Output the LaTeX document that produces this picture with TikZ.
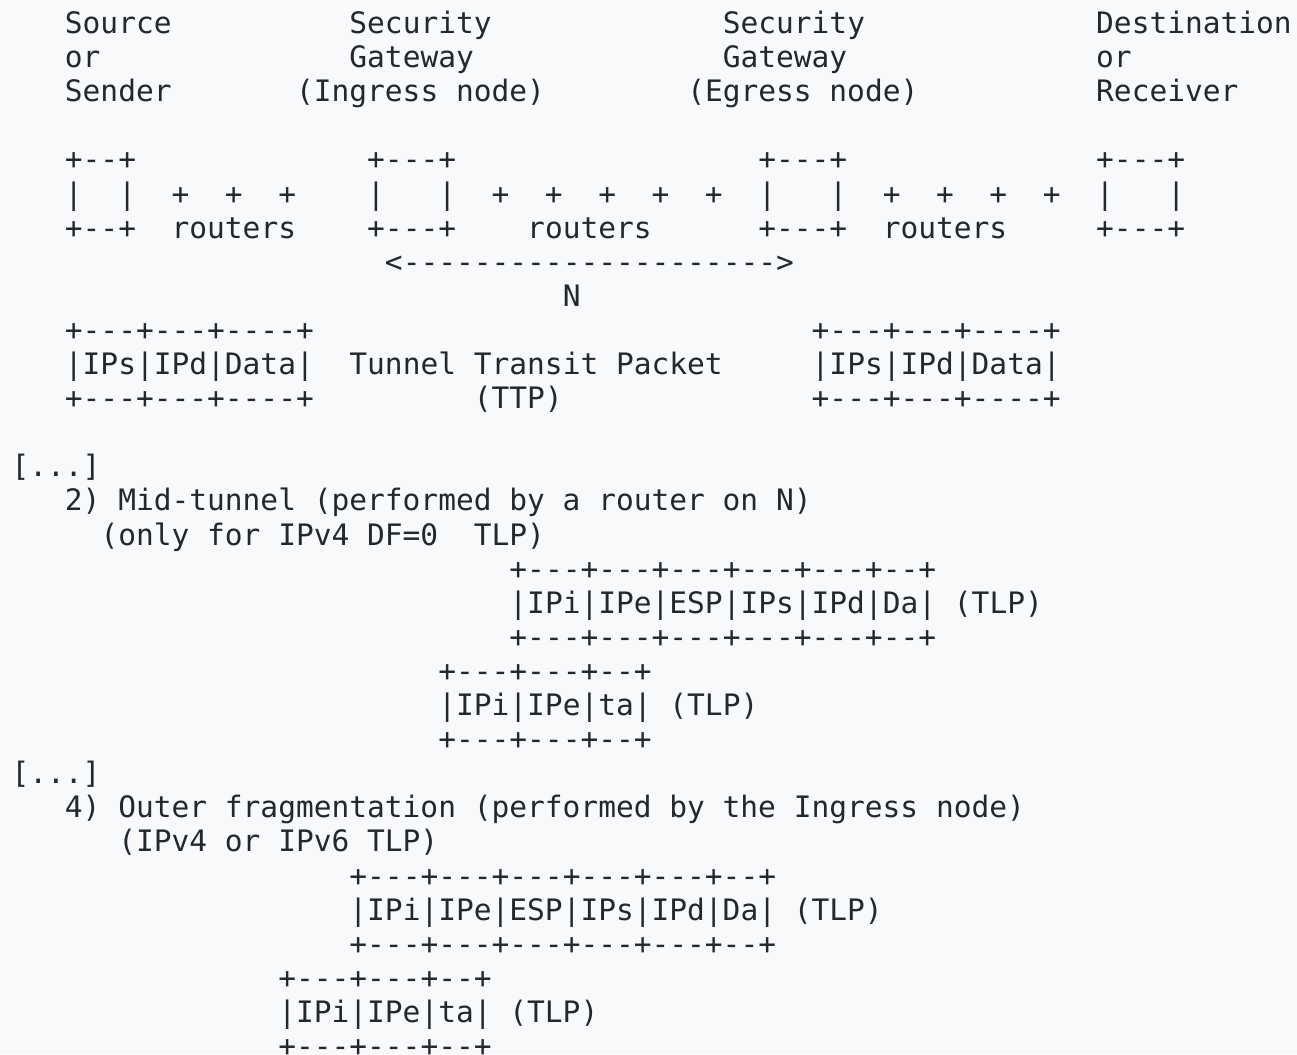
\documentclass[tikz,border=0pt]{standalone}
\usepackage{fontspec}
\setmonofont{DejaVu Sans Mono}
\definecolor{bgc}{HTML}{F8F9FA}
\definecolor{ink}{HTML}{24282D}
\tikzset{
  asc/.style={anchor=base west, inner sep=0pt, outer sep=0pt, text=ink,
    font=\ttfamily\fontsize{29.53}{34}\selectfont}
}
\newcommand\tx[4]{\node[asc] (#1) at ({11.6+17.78*#2},{33.5+34.1*(#3-1)}) {#4};}
\begin{document}
\begin{tikzpicture}[x=1pt,y=-1pt]
\path[fill=bgc] (0,0) rectangle (1297,1054);
\useasboundingbox (0,0) rectangle (1297,1054);
% line 1-3: labels
\tx{srcA}{3}{1}{Source}
\tx{sgiA}{19}{1}{Security}
\tx{sgeA}{40}{1}{Security}
\tx{dstA}{61}{1}{Destination}
\tx{srcB}{3}{2}{or}
\tx{sgiB}{19}{2}{Gateway}
\tx{sgeB}{40}{2}{Gateway}
\tx{dstB}{61}{2}{or}
\tx{srcC}{3}{3}{Sender}
\tx{sgiC}{16}{3}{(Ingress node)}
\tx{sgeC}{38}{3}{(Egress node)}
\tx{dstC}{61}{3}{Receiver}
% line 5-7: boxes and routers
\tx{b1t}{3}{5}{+--+}
\tx{b2t}{20}{5}{+---+}
\tx{b3t}{42}{5}{+---+}
\tx{b4t}{61}{5}{+---+}
\tx{b1l}{3}{6}{|}
\tx{b1r}{6}{6}{|}
\tx{r1p}{9}{6}{+~~+~~+}
\tx{b2l}{20}{6}{|}
\tx{b2r}{24}{6}{|}
\tx{r2p}{27}{6}{+~~+~~+~~+~~+}
\tx{b3l}{42}{6}{|}
\tx{b3r}{46}{6}{|}
\tx{r3p}{49}{6}{+~~+~~+~~+}
\tx{b4l}{61}{6}{|}
\tx{b4r}{65}{6}{|}
\tx{b1b}{3}{7}{+--+}
\tx{r1t}{9}{7}{routers}
\tx{b2b}{20}{7}{+---+}
\tx{r2t}{29}{7}{routers}
\tx{b3b}{42}{7}{+---+}
\tx{r3t}{49}{7}{routers}
\tx{b4b}{61}{7}{+---+}
% line 8-9: N
\tx{arrN}{21}{8}{<--------------------->}
\tx{labN}{31}{9}{N}
% line 10-12: packets
\tx{pLt}{3}{10}{+---+---+----+}
\tx{pRt}{45}{10}{+---+---+----+}
\tx{pLm}{3}{11}{|IPs|IPd|Data|}
\tx{ttpA}{19}{11}{Tunnel Transit Packet}
\tx{pRm}{45}{11}{|IPs|IPd|Data|}
\tx{pLb}{3}{12}{+---+---+----+}
\tx{ttpB}{26}{12}{(TTP)}
\tx{pRb}{45}{12}{+---+---+----+}
% section 2
\tx{ellA}{0}{14}{[...]}
\tx{midA}{3}{15}{2) Mid-tunnel (performed by a router on N)}
\tx{midB}{5}{16}{(only for IPv4 DF=0}
\tx{midC}{26}{16}{TLP)}
\tx{mA1}{28}{17}{+---+---+---+---+---+--+}
\tx{mA2}{28}{18}{|IPi|IPe|ESP|IPs|IPd|Da|}
\tx{mA2l}{53}{18}{(TLP)}
\tx{mA3}{28}{19}{+---+---+---+---+---+--+}
\tx{mB1}{24}{20}{+---+---+--+}
\tx{mB2}{24}{21}{|IPi|IPe|ta| (TLP)}
\tx{mB3}{24}{22}{+---+---+--+}
% section 4
\tx{ellB}{0}{23}{[...]}
\tx{outA}{3}{24}{4) Outer fragmentation (performed by the Ingress node)}
\tx{outB}{6}{25}{(IPv4 or IPv6 TLP)}
\tx{oA1}{19}{26}{+---+---+---+---+---+--+}
\tx{oA2}{19}{27}{|IPi|IPe|ESP|IPs|IPd|Da| (TLP)}
\tx{oA3}{19}{28}{+---+---+---+---+---+--+}
\tx{oB1}{15}{29}{+---+---+--+}
\tx{oB2}{15}{30}{|IPi|IPe|ta| (TLP)}
\tx{oB3}{15}{31}{+---+---+--+}
\end{tikzpicture}
\end{document}
